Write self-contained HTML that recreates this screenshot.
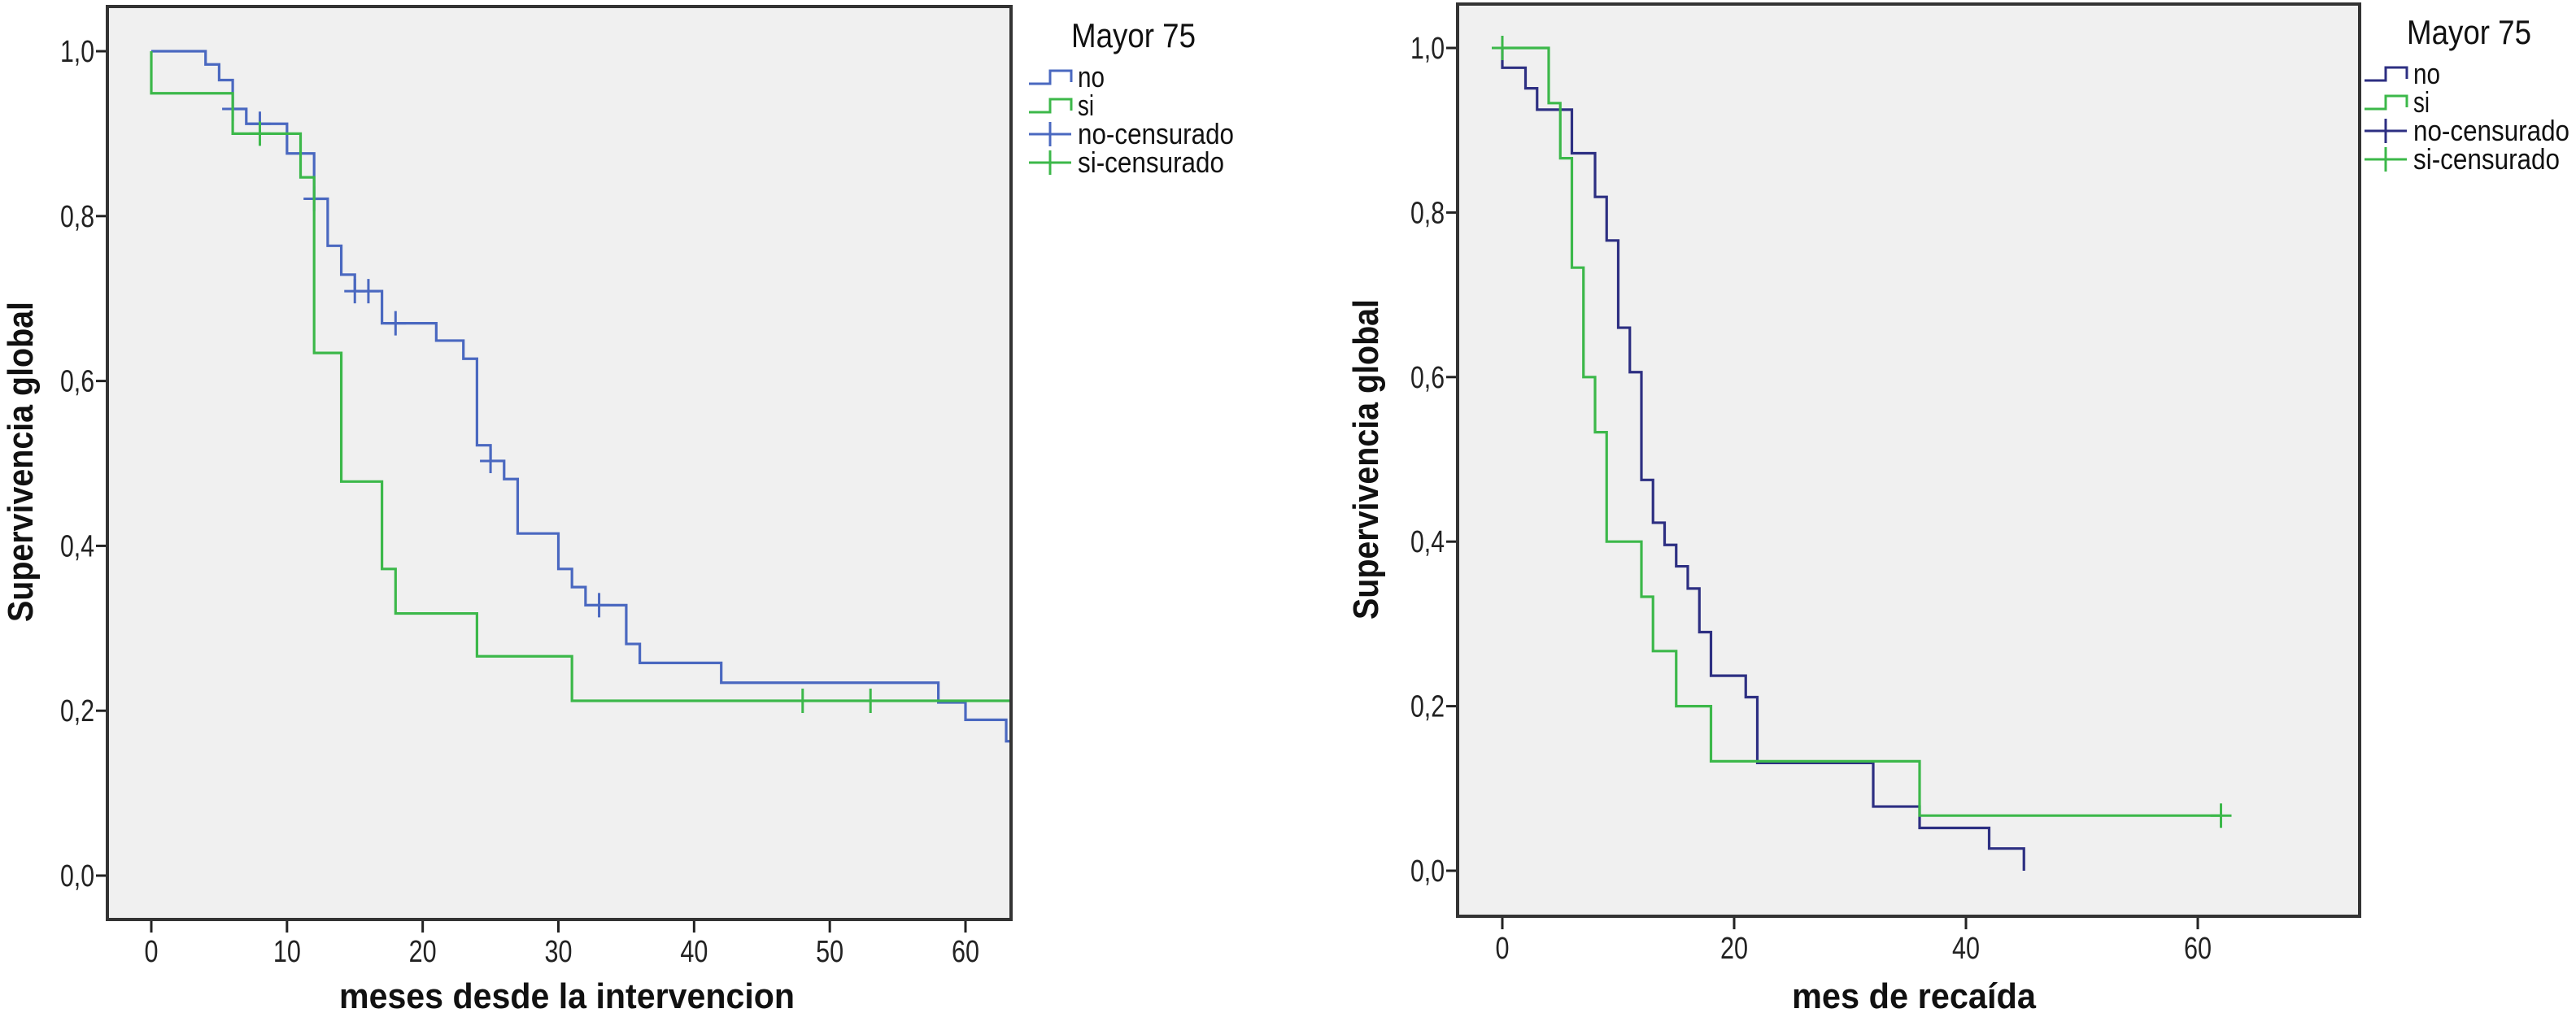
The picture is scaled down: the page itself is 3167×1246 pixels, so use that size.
<!DOCTYPE html>
<html><head><meta charset="utf-8">
<style>
html,body{margin:0;padding:0;background:#fff;}
svg{display:block;}
.tick{font-family:"Liberation Sans Narrow","Liberation Sans",sans-serif;font-size:38px;fill:#222;}
.title{font-family:"Liberation Sans",sans-serif;font-weight:bold;font-size:44px;fill:#111;}
.leg{font-family:"Liberation Sans Narrow","Liberation Sans",sans-serif;font-size:36px;fill:#111;}
.legt{font-family:"Liberation Sans Narrow","Liberation Sans",sans-serif;font-size:42px;fill:#111;}
</style></head>
<body>
<svg id="root" width="3167" height="1246" viewBox="0 0 3167 1246" xmlns="http://www.w3.org/2000/svg">
<g id="c1"></g>
<g id="c2"></g>
</svg>
<script>
// Left chart data
const leftNoTimes = [0,4,5,6,7,10,12,13,14,15,17,21,23,24,25,26,27,30,31,32,35,36,42,58,60,63];
const leftNoSurv  = [1.0,0.984,0.965,0.93,0.912,0.876,0.821,0.764,0.729,0.709,0.67,0.649,0.627,0.522,0.503,0.481,0.415,0.372,0.35,0.328,0.281,0.258,0.234,0.21,0.189,0.163];
const leftNoCensT = [6,8,12,15,16,18,25,33];
const leftNoCensS = [0.93,0.912,0.821,0.709,0.709,0.67,0.503,0.328];
const leftSiTimes = [0,0,6,11,12,14,17,18,24,31];
const leftSiSurv  = [1.0,0.949,0.9,0.847,0.634,0.478,0.372,0.318,0.266,0.212];
const leftSiCensT = [8,48,53];
const leftSiCensS = [0.9,0.212,0.212];
const leftXTicks = [0,10,20,30,40,50,60];
// Right chart data
const rightNoTimes = [0,0,2,3,6,8,9,10,11,12,13,14,15,16,17,18,21,22,32,36,42,45];
const rightNoSurv  = [1.0,0.976,0.951,0.925,0.872,0.819,0.766,0.66,0.606,0.475,0.423,0.396,0.37,0.343,0.29,0.237,0.211,0.131,0.078,0.052,0.027,0.0];
const rightSiTimes = [0,4,5,6,7,8,9,12,13,15,18,36];
const rightSiSurv  = [1.0,0.933,0.866,0.733,0.6,0.533,0.4,0.333,0.267,0.2,0.133,0.067];
const rightSiCensT = [0,62];
const rightSiCensS = [1.0,0.067];
const rightXTicks = [0,20,40,60];
const yTicks = [0,0.2,0.4,0.6,0.8,1.0];
const yTickLabels = ["0,0","0,2","0,4","0,6","0,8","1,0"];

const NS="http://www.w3.org/2000/svg";
function mk(parent,tag,attrs){const e=document.createElementNS(NS,tag);for(const k in attrs)e.setAttribute(k,attrs[k]);parent.appendChild(e);return e;}

function chart(g,cfg){
  const sx=t=>cfg.x0+(t)*cfg.kx;
  const sy=v=>cfg.y0-(v)*(cfg.y0-cfg.y1);
  const bg=mk(g,'rect',{x:cfg.L,y:cfg.T,width:cfg.R-cfg.L,height:cfg.B-cfg.T,fill:'#f0f0f0'});
  
  
  yTicks.forEach((v,i)=>{
    const l=mk(g,'line',{x1:cfg.L-14,x2:cfg.L,y1:sy(v),y2:sy(v),stroke:'#222','stroke-width':3});
    
    
    const t=mk(g,'text',{x:cfg.L-16,y:sy(v)+13,'text-anchor':'end',class:'tick',textLength:42,lengthAdjust:'spacingAndGlyphs'});
    t.textContent=yTickLabels[i];
    
    
  });
  cfg.xt.forEach(v=>{
    const l=mk(g,'line',{x1:sx(v),x2:sx(v),y1:cfg.B,y2:cfg.B+16,stroke:'#222','stroke-width':3});
    
    
    const s=String(v);
    const t=mk(g,'text',{x:sx(v),y:cfg.B+52,'text-anchor':'middle',class:'tick',textLength:s.length*17,lengthAdjust:'spacingAndGlyphs'});
    t.textContent=s;
    
    
  });
  cfg.series.forEach(s=>{
    let d='M'+sx(s.t[0])+' '+sy(s.s[0]);
    for(let i=1;i<s.t.length;i++){d+=' H'+sx(s.t[i])+' V'+sy(s.s[i]);}
    d+=' H'+sx(s.end);
    const p=mk(g,'path',{d:d,fill:'none',stroke:s.color,'stroke-width':3.2});
    
    
    (s.ct||[]).forEach((c,i)=>{
      const x=sx(c),y=sy(s.cs[i]);
      const m=mk(g,'path',{d:`M${x-13} ${y} H${x+13} M${x} ${y-15} V${y+15}`,stroke:s.color,'stroke-width':3,fill:'none'});
      
      
    });
  });
  const fr=mk(g,'rect',{x:cfg.L,y:cfg.T,width:cfg.R-cfg.L,height:cfg.B-cfg.T,fill:'none',stroke:'#333','stroke-width':4});
  
  
  const xt=mk(g,'text',{x:cfg.xtx,y:1240,'text-anchor':'middle',class:'title',textLength:cfg.xtl,lengthAdjust:'spacingAndGlyphs'});
  xt.textContent=cfg.xtitle;
  
  
  const yt=mk(g,'text',{x:0,y:0,'text-anchor':'middle',class:'title',textLength:394,lengthAdjust:'spacingAndGlyphs',transform:`translate(${cfg.ytx},${cfg.yty}) rotate(-90)`});
  yt.textContent='Supervivencia global';
  
  
  const lg=mk(g,'g',{});
  
  
  const tt=mk(lg,'text',{x:cfg.lx+52,y:cfg.ly+14,class:'legt',textLength:153,lengthAdjust:'spacingAndGlyphs'});
  tt.textContent='Mayor 75';
  
  
  const ents=[['no',cfg.c1,'step',33],['si',cfg.c2,'step',20],['no-censurado',cfg.c1,'plus',192],['si-censurado',cfg.c2,'plus',180]];
  ents.forEach((e,i)=>{
    const y=cfg.ly+51+i*35;
    const x=cfg.lx;
    let d;
    if(e[2]==='step') d=`M${x} ${y+8} H${x+26} V${y-8} H${x+52} V${y+6}`;
    else d=`M${x} ${y} H${x+52} M${x+26} ${y-15} V${y+15}`;
    const s=mk(lg,'path',{d:d,stroke:e[1],'stroke-width':3,fill:'none'});
    
    
    const t=mk(lg,'text',{x:x+60,y:y+12,class:'leg',textLength:e[3],lengthAdjust:'spacingAndGlyphs'});
    t.textContent=e[0];
    
    
  });
}

const blueL='#4a68c0', green='#3cb84a', navy='#2d2f82';
chart(document.getElementById('c1'),{
  L:132,R:1243,T:8,B:1131,x0:186,kx:(1187-186)/60,y0:1077,y1:63,xt:leftXTicks,
  xtitle:'meses desde la intervencion',xtx:697,xtl:560,ytx:40,yty:568,
  lx:1265,ly:44,c1:blueL,c2:green,
  series:[
    {name:'no',t:leftNoTimes,s:leftNoSurv,end:63.4,color:blueL,ct:leftNoCensT,cs:leftNoCensS},
    {name:'si',t:leftSiTimes,s:leftSiSurv,end:63.4,color:green,ct:leftSiCensT,cs:leftSiCensS}
  ]
});
chart(document.getElementById('c2'),{
  L:1792,R:2901,T:5,B:1127,x0:1847,kx:(2702-1847)/60,y0:1071,y1:59,xt:rightXTicks,
  xtitle:'mes de recaída',xtx:2353,xtl:300,ytx:1694,yty:565,
  lx:2907,ly:40,c1:navy,c2:green,
  series:[
    {name:'no',t:rightNoTimes,s:rightNoSurv,end:45,color:navy},
    {name:'si',t:rightSiTimes,s:rightSiSurv,end:62,color:green,ct:rightSiCensT,cs:rightSiCensS}
  ]
});
</script>
</body></html>
